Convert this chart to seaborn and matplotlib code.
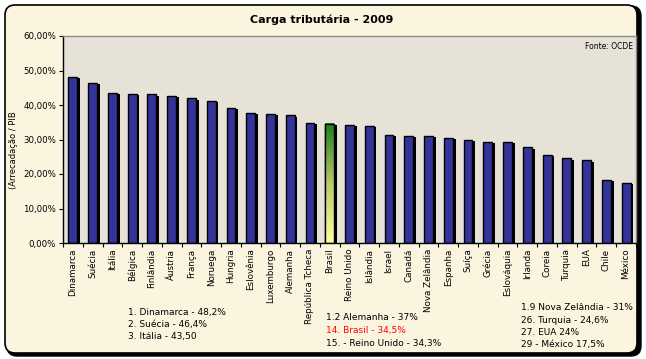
import numpy as np
import pandas as pd
import seaborn as sns
import matplotlib
matplotlib.use("Agg")
import matplotlib.pyplot as plt
from matplotlib.patches import FancyBboxPatch, Rectangle
from matplotlib.transforms import IdentityTransform
from matplotlib.ticker import FuncFormatter, FixedLocator
import matplotlib.patheffects as pe

countries = ["Dinamarca", "Suécia", "Itália", "Bélgica", "Finlândia", "Áustria", "França",
             "Noruega", "Hungria", "Eslovênia", "Luxemburgo", "Alemanha", "República Tcheca",
             "Brasil", "Reino Unido", "Islândia", "Israel", "Canadá", "Nova Zelândia", "Espanha",
             "Suíça", "Grécia", "Eslováquia", "Irlanda", "Coreia", "Turquia", "EUA", "Chile", "México"]
values = [48.2, 46.4, 43.5, 43.2, 43.1, 42.7, 41.9, 41.2, 39.1, 37.8, 37.5, 37.0, 34.8,
          34.5, 34.3, 34.0, 31.4, 31.1, 31.0, 30.5, 29.9, 29.4, 29.3, 27.7, 25.6, 24.6, 24.0, 18.4, 17.5]
yticks = [0, 10, 20, 30, 40, 50, 60]
highlight = "Brasil"

notes_left = ["1. Dinamarca - 48,2%", "2. Suécia - 46,4%", "3. Itália - 43,50"]
notes_mid = ["1.2 Alemanha - 37%", "14. Brasil - 34,5%", "15. - Reino Unido - 34,3%"]
notes_right = ["1.9 Nova Zelândia - 31%", "26. Turquia - 24,6%", "27. EUA 24%", "29 - México 17,5%"]

df = pd.DataFrame({"pais": countries, "carga": values})

sns.set_theme(style="white")
plt.rcParams["font.family"] = ["DejaVu Sans"]
plt.rcParams["text.color"] = "black"
plt.rcParams["axes.labelcolor"] = "black"
plt.rcParams["xtick.color"] = "black"
plt.rcParams["ytick.color"] = "black"

W, H = 646, 359
fig = plt.figure(figsize=(W / 100, H / 100), dpi=100)
fig.patch.set_facecolor("white")

# outer rounded frame with shadow
shadow = FancyBboxPatch((7, 3), 634, 350, boxstyle="round,pad=0,rounding_size=10",
                        transform=IdentityTransform(), facecolor="black", edgecolor="black", zorder=-2)
frame = FancyBboxPatch((5, 6), 632, 348, boxstyle="round,pad=0,rounding_size=10",
                       transform=IdentityTransform(), facecolor="#FBF4DF", edgecolor="black",
                       linewidth=1.2, zorder=-1)
fig.add_artist(shadow)
fig.add_artist(frame)

x0, x1, yt, yb = 63, 636, 36, 243
ax = fig.add_axes([x0 / W, (H - yb) / H, (x1 - x0) / W, (yb - yt) / H])
ax.set_zorder(1)
ax.set_facecolor("#E7E2D7")

sns.barplot(data=df, x="pais", y="carga", color="#333399", saturation=1,
            edgecolor="black", linewidth=1.0, width=0.45, ax=ax)

for p, c in zip(ax.patches, countries):
    p.set_path_effects([pe.SimplePatchShadow(offset=(2, -1), shadow_rgbFace="black", alpha=1),
                        pe.Normal()])
    if c == highlight:
        bx, by = p.get_x(), p.get_y()
        bw, bh = p.get_width(), p.get_height()
        z = p.get_zorder()
        grad = np.linspace(0, 1, 256).reshape(-1, 1)
        cmap = matplotlib.colors.LinearSegmentedColormap.from_list(
            "g", ["#FFFF9E", "#B9C86A", "#1E7E1E"])
        ax.imshow(grad, extent=[bx, bx + bw, by, by + bh], origin="lower",
                  aspect="auto", cmap=cmap, zorder=z + 0.1)
        ax.add_patch(Rectangle((bx, by), bw, bh, facecolor="none", edgecolor="black",
                               linewidth=1.0, zorder=z + 0.2))

ax.set_xlim(-0.5, len(countries) - 0.5)
ax.set_ylim(0, 60)
ax.set_yticks(yticks)
ax.yaxis.set_major_formatter(FuncFormatter(lambda v, _: f"{v:.2f}%".replace(".", ",")))
ax.tick_params(axis="y", labelsize=6.2, length=3, width=0.8, color="black", pad=2, left=True)
ax.tick_params(axis="x", which="major", labelsize=6.3, length=0, pad=4, rotation=90)
ax.xaxis.set_minor_locator(FixedLocator(np.arange(-0.5, len(countries), 1)))
ax.tick_params(axis="x", which="minor", length=3, width=0.8, color="black", bottom=True)
ax.set_xlabel("")
ax.set_ylabel("(Arrecadação / PIB", fontsize=6)
ax.yaxis.set_label_coords(-45 / (x1 - x0), 0.45)

for s in ["left", "bottom"]:
    ax.spines[s].set_color("black")
    ax.spines[s].set_linewidth(1)
for s in ["top", "right"]:
    ax.spines[s].set_color("#8A8A8A")
    ax.spines[s].set_linewidth(1)

ax.text(0.995, 0.97, "Fonte: OCDE", transform=ax.transAxes, ha="right", va="top", fontsize=5.5)

fig.text(322 / W, 1 - 20 / H, "Carga tributária - 2009", ha="center", va="center",
         fontsize=8, fontweight="bold")

def put(lines, x, ys, colors=None):
    for i, (t, y) in enumerate(zip(lines, ys)):
        col = colors[i] if colors else "black"
        fig.text(x / W, 1 - y / H, t, ha="left", va="center", fontsize=6.5, color=col)

put(notes_left, 128, [313, 325, 337])
put(notes_mid, 326, [318, 331, 343.5], ["black", "red", "black"])
put(notes_right, 521, [308, 320.5, 332.5, 344])

fig.savefig("out.png", dpi=100, facecolor=fig.get_facecolor())
